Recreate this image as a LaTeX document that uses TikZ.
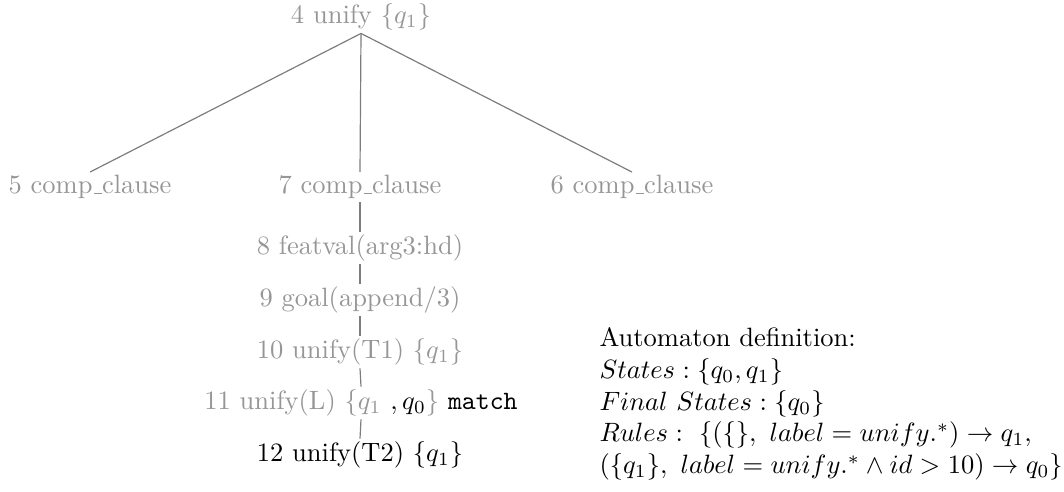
\documentclass[tikz,border=0pt]{standalone}
\usepackage{xcolor}
\definecolor{treetext}{RGB}{150,150,150}
\definecolor{treeline}{RGB}{125,125,125}
% short low underscore, as in classic TeX
\newcommand\usc{\leavevmode\kern.06em\vbox{\hrule width.3em}}
\begin{document}
\begin{tikzpicture}[x=0.3774pt, y=-0.3774pt,
  tn/.style={inner sep=1pt, text=treetext},
  tnd/.style={inner sep=1pt, text=black},
  edge/.style={draw=treeline, line width=0.45pt}]
\useasboundingbox (0,0) rectangle (1064,491);

% tree nodes
\node[tn] (n4)  at (361,17)  {4 unify $\{q_1\}$};
\node[tn] (n5)  at (90,187)  {5 comp\usc clause};
\node[tn] (n7)  at (360,187) {7 comp\usc clause};
\node[tn] (n6)  at (632,187) {6 comp\usc clause};
\node[tn] (n8)  at (360,248) {8 featval(arg3:hd)};
\node[tn] (n9)  at (360,300) {9 goal(append/3)};
\node[tn] (n10) at (360,352) {10 unify(T1) $\{q_1\}$};
\node[tn] (n11) at (361,403) {11 unify(L) $\{q_1$\ \textcolor{black}{$,q_0$}$\}$ \textcolor{black}{\texttt{match}}};
\node[tnd] (n12) at (360,455) {12 unify(T2) $\{q_1\}$};

% edges
\draw[edge] (n4.south) -- (n5.north);
\draw[edge] (n4.south) -- (n7.north);
\draw[edge] (n4.south) -- (n6.north);
\draw[edge] (n7.south) -- (n8.north);
\draw[edge] (n8.south) -- (n9.north);
\draw[edge] (n9.south) -- (n10.north);
\draw[edge] (n10.south) -- (n11.north);
\draw[edge] (n11.south) -- (n12.north);

% automaton definition
\node[anchor=north west, align=left, inner sep=0pt] (auto) at (599,327) {%
Automaton definition:\\
$States: \{q_0, q_1\}$\\
$Final\ States: \{q_0\}$\\
$Rules:\ \{(\{\},\ label = unify.^*) \rightarrow q_1,$\\
$(\{q_1\},\ label = unify.^* \wedge id > 10) \rightarrow q_0\}$};
\end{tikzpicture}
\end{document}
